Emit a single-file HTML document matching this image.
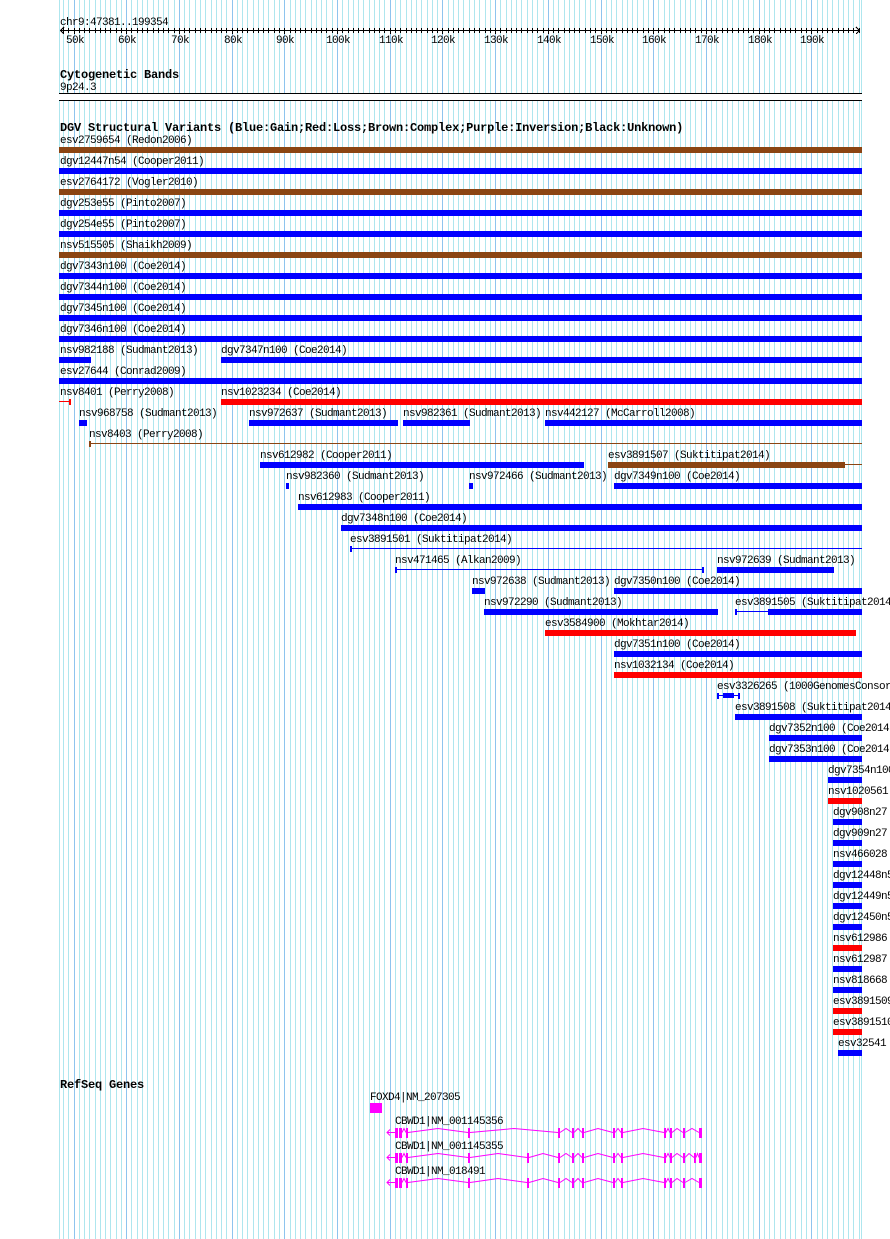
<!DOCTYPE html>
<html><head><meta charset="utf-8"><style>
html,body{margin:0;padding:0;background:#fff;}
svg{display:block;}
text{font-family:"Liberation Mono",monospace;font-size:11px;letter-spacing:-0.6px;fill:#000;}
text.b{font-weight:bold;font-size:12px;letter-spacing:-0.2px;}
</style></head><body>
<svg xmlns="http://www.w3.org/2000/svg" width="890" height="1239" viewBox="0 0 890 1239" shape-rendering="crispEdges">
<rect width="890" height="1239" fill="#fff"/>
<!-- minor grid -->
<path fill="none" stroke="#aee6ee" stroke-width="1" d="M59.5 0v1239M63.5 0v1239M68.5 0v1239M79.5 0v1239M84.5 0v1239M89.5 0v1239M95.5 0v1239M100.5 0v1239M105.5 0v1239M110.5 0v1239M116.5 0v1239M121.5 0v1239M131.5 0v1239M137.5 0v1239M142.5 0v1239M147.5 0v1239M153.5 0v1239M158.5 0v1239M163.5 0v1239M168.5 0v1239M174.5 0v1239M184.5 0v1239M189.5 0v1239M195.5 0v1239M200.5 0v1239M205.5 0v1239M211.5 0v1239M216.5 0v1239M221.5 0v1239M226.5 0v1239M237.5 0v1239M242.5 0v1239M247.5 0v1239M253.5 0v1239M258.5 0v1239M263.5 0v1239M268.5 0v1239M274.5 0v1239M279.5 0v1239M290.5 0v1239M295.5 0v1239M300.5 0v1239M305.5 0v1239M311.5 0v1239M316.5 0v1239M321.5 0v1239M326.5 0v1239M332.5 0v1239M342.5 0v1239M348.5 0v1239M353.5 0v1239M358.5 0v1239M363.5 0v1239M369.5 0v1239M374.5 0v1239M379.5 0v1239M384.5 0v1239M395.5 0v1239M400.5 0v1239M406.5 0v1239M411.5 0v1239M416.5 0v1239M421.5 0v1239M427.5 0v1239M432.5 0v1239M437.5 0v1239M448.5 0v1239M453.5 0v1239M458.5 0v1239M463.5 0v1239M469.5 0v1239M474.5 0v1239M479.5 0v1239M485.5 0v1239M490.5 0v1239M500.5 0v1239M506.5 0v1239M511.5 0v1239M516.5 0v1239M521.5 0v1239M527.5 0v1239M532.5 0v1239M537.5 0v1239M543.5 0v1239M553.5 0v1239M558.5 0v1239M564.5 0v1239M569.5 0v1239M574.5 0v1239M579.5 0v1239M585.5 0v1239M590.5 0v1239M595.5 0v1239M606.5 0v1239M611.5 0v1239M616.5 0v1239M622.5 0v1239M627.5 0v1239M632.5 0v1239M637.5 0v1239M643.5 0v1239M648.5 0v1239M658.5 0v1239M664.5 0v1239M669.5 0v1239M674.5 0v1239M680.5 0v1239M685.5 0v1239M690.5 0v1239M695.5 0v1239M701.5 0v1239M711.5 0v1239M716.5 0v1239M722.5 0v1239M727.5 0v1239M732.5 0v1239M738.5 0v1239M743.5 0v1239M748.5 0v1239M753.5 0v1239M764.5 0v1239M769.5 0v1239M774.5 0v1239M780.5 0v1239M785.5 0v1239M790.5 0v1239M795.5 0v1239M801.5 0v1239M806.5 0v1239M817.5 0v1239M822.5 0v1239M827.5 0v1239M832.5 0v1239M838.5 0v1239M843.5 0v1239M848.5 0v1239M853.5 0v1239M859.5 0v1239M861.5 0v1239"/>
<!-- major grid -->
<path fill="none" stroke="#8ec4ee" stroke-width="1" d="M74.5 0v1239M126.5 0v1239M179.5 0v1239M232.5 0v1239M284.5 0v1239M337.5 0v1239M390.5 0v1239M442.5 0v1239M495.5 0v1239M548.5 0v1239M601.5 0v1239M653.5 0v1239M706.5 0v1239M759.5 0v1239M811.5 0v1239"/>

<!-- ruler -->
<text x="60" y="25">chr9:47381..199354</text>
<rect x="60" y="30" width="800" height="1" fill="#000"/>
<polyline points="64,27 60.5,30.5 64,34" fill="none" stroke="#000" stroke-width="1"/>
<polyline points="856,27 859.5,30.5 856,34" fill="none" stroke="#000" stroke-width="1"/>
<path fill="none" stroke="#000" stroke-width="1" d="M63.5 28v5M68.5 28v5M74.5 28v6M79.5 28v5M84.5 28v5M89.5 28v5M95.5 28v5M100.5 28v5M105.5 28v5M110.5 28v5M116.5 28v5M121.5 28v5M126.5 28v6M131.5 28v5M137.5 28v5M142.5 28v5M147.5 28v5M153.5 28v5M158.5 28v5M163.5 28v5M168.5 28v5M174.5 28v5M179.5 28v6M184.5 28v5M189.5 28v5M195.5 28v5M200.5 28v5M205.5 28v5M211.5 28v5M216.5 28v5M221.5 28v5M226.5 28v5M232.5 28v6M237.5 28v5M242.5 28v5M247.5 28v5M253.5 28v5M258.5 28v5M263.5 28v5M268.5 28v5M274.5 28v5M279.5 28v5M284.5 28v6M290.5 28v5M295.5 28v5M300.5 28v5M305.5 28v5M311.5 28v5M316.5 28v5M321.5 28v5M326.5 28v5M332.5 28v5M337.5 28v6M342.5 28v5M348.5 28v5M353.5 28v5M358.5 28v5M363.5 28v5M369.5 28v5M374.5 28v5M379.5 28v5M384.5 28v5M390.5 28v6M395.5 28v5M400.5 28v5M406.5 28v5M411.5 28v5M416.5 28v5M421.5 28v5M427.5 28v5M432.5 28v5M437.5 28v5M442.5 28v6M448.5 28v5M453.5 28v5M458.5 28v5M463.5 28v5M469.5 28v5M474.5 28v5M479.5 28v5M485.5 28v5M490.5 28v5M495.5 28v6M500.5 28v5M506.5 28v5M511.5 28v5M516.5 28v5M521.5 28v5M527.5 28v5M532.5 28v5M537.5 28v5M543.5 28v5M548.5 28v6M553.5 28v5M558.5 28v5M564.5 28v5M569.5 28v5M574.5 28v5M579.5 28v5M585.5 28v5M590.5 28v5M595.5 28v5M601.5 28v6M606.5 28v5M611.5 28v5M616.5 28v5M622.5 28v5M627.5 28v5M632.5 28v5M637.5 28v5M643.5 28v5M648.5 28v5M653.5 28v6M658.5 28v5M664.5 28v5M669.5 28v5M674.5 28v5M680.5 28v5M685.5 28v5M690.5 28v5M695.5 28v5M701.5 28v5M706.5 28v6M711.5 28v5M716.5 28v5M722.5 28v5M727.5 28v5M732.5 28v5M738.5 28v5M743.5 28v5M748.5 28v5M753.5 28v5M759.5 28v6M764.5 28v5M769.5 28v5M774.5 28v5M780.5 28v5M785.5 28v5M790.5 28v5M795.5 28v5M801.5 28v5M806.5 28v5M811.5 28v6M817.5 28v5M822.5 28v5M827.5 28v5M832.5 28v5M838.5 28v5M843.5 28v5M848.5 28v5M853.5 28v5M859.5 28v5"/>
<g text-anchor="middle">
<text x="75" y="43">50k</text>
<text x="127" y="43">60k</text>
<text x="180" y="43">70k</text>
<text x="233" y="43">80k</text>
<text x="285" y="43">90k</text>
<text x="338" y="43">100k</text>
<text x="391" y="43">110k</text>
<text x="443" y="43">120k</text>
<text x="496" y="43">130k</text>
<text x="549" y="43">140k</text>
<text x="602" y="43">150k</text>
<text x="654" y="43">160k</text>
<text x="707" y="43">170k</text>
<text x="760" y="43">180k</text>
<text x="812" y="43">190k</text>
</g>

<!-- cytogenetic bands -->
<text class="b" x="60" y="78">Cytogenetic Bands</text>
<text x="60" y="90">9p24.3</text>
<rect x="59" y="93" width="803" height="8" fill="#fff"/>
<rect x="59" y="93" width="803" height="1" fill="#000"/>
<rect x="59" y="100" width="803" height="1" fill="#000"/>

<!-- DGV -->
<text class="b" x="60" y="131">DGV Structural Variants (Blue:Gain;Red:Loss;Brown:Complex;Purple:Inversion;Black:Unknown)</text>

<g>
<text x="60" y="143">esv2759654 (Redon2006)</text>
<rect x="59" y="147" width="803" height="6" fill="#8b4513"/>
<text x="60" y="164">dgv12447n54 (Cooper2011)</text>
<rect x="59" y="168" width="803" height="6" fill="#0000ff"/>
<text x="60" y="185">esv2764172 (Vogler2010)</text>
<rect x="59" y="189" width="803" height="6" fill="#8b4513"/>
<text x="60" y="206">dgv253e55 (Pinto2007)</text>
<rect x="59" y="210" width="803" height="6" fill="#0000ff"/>
<text x="60" y="227">dgv254e55 (Pinto2007)</text>
<rect x="59" y="231" width="803" height="6" fill="#0000ff"/>
<text x="60" y="248">nsv515505 (Shaikh2009)</text>
<rect x="59" y="252" width="803" height="6" fill="#8b4513"/>
<text x="60" y="269">dgv7343n100 (Coe2014)</text>
<rect x="59" y="273" width="803" height="6" fill="#0000ff"/>
<text x="60" y="290">dgv7344n100 (Coe2014)</text>
<rect x="59" y="294" width="803" height="6" fill="#0000ff"/>
<text x="60" y="311">dgv7345n100 (Coe2014)</text>
<rect x="59" y="315" width="803" height="6" fill="#0000ff"/>
<text x="60" y="332">dgv7346n100 (Coe2014)</text>
<rect x="59" y="336" width="803" height="6" fill="#0000ff"/>

<text x="60" y="353">nsv982188 (Sudmant2013)</text>
<rect x="59" y="357" width="32" height="6" fill="#0000ff"/>
<text x="221" y="353">dgv7347n100 (Coe2014)</text>
<rect x="221" y="357" width="641" height="6" fill="#0000ff"/>

<text x="60" y="374">esv27644 (Conrad2009)</text>
<rect x="59" y="378" width="803" height="6" fill="#0000ff"/>

<text x="60" y="395">nsv8401 (Perry2008)</text>
<rect x="59" y="401" width="11" height="1" fill="#ff0000"/>
<rect x="69" y="399" width="2" height="6" fill="#ff0000"/>
<text x="221" y="395">nsv1023234 (Coe2014)</text>
<rect x="221" y="399" width="641" height="6" fill="#ff0000"/>

<text x="79" y="416">nsv968758 (Sudmant2013)</text>
<rect x="79" y="420" width="8" height="6" fill="#0000ff"/>
<text x="249" y="416">nsv972637 (Sudmant2013)</text>
<rect x="249" y="420" width="149" height="6" fill="#0000ff"/>
<text x="403" y="416">nsv982361 (Sudmant2013)</text>
<rect x="403" y="420" width="67" height="6" fill="#0000ff"/>
<text x="545" y="416">nsv442127 (McCarroll2008)</text>
<rect x="545" y="420" width="317" height="6" fill="#0000ff"/>

<text x="89" y="437">nsv8403 (Perry2008)</text>
<rect x="89" y="443" width="773" height="1" fill="#8b4513"/>
<rect x="89" y="441" width="2" height="6" fill="#8b4513"/>

<text x="260" y="458">nsv612982 (Cooper2011)</text>
<rect x="260" y="462" width="324" height="6" fill="#0000ff"/>
<text x="608" y="458">esv3891507 (Suktitipat2014)</text>
<rect x="608" y="462" width="237" height="6" fill="#8b4513"/>
<rect x="845" y="464" width="17" height="1" fill="#8b4513"/>

<text x="286" y="479">nsv982360 (Sudmant2013)</text>
<rect x="286" y="483" width="3" height="6" fill="#0000ff"/>
<text x="469" y="479">nsv972466 (Sudmant2013)</text>
<rect x="469" y="483" width="4" height="6" fill="#0000ff"/>
<text x="614" y="479">dgv7349n100 (Coe2014)</text>
<rect x="614" y="483" width="248" height="6" fill="#0000ff"/>

<text x="298" y="500">nsv612983 (Cooper2011)</text>
<rect x="298" y="504" width="564" height="6" fill="#0000ff"/>

<text x="341" y="521">dgv7348n100 (Coe2014)</text>
<rect x="341" y="525" width="521" height="6" fill="#0000ff"/>

<text x="350" y="542">esv3891501 (Suktitipat2014)</text>
<rect x="350" y="548" width="512" height="1" fill="#0000ff"/>
<rect x="350" y="546" width="2" height="6" fill="#0000ff"/>

<text x="395" y="563">nsv471465 (Alkan2009)</text>
<rect x="395" y="569" width="309" height="1" fill="#0000ff"/>
<rect x="395" y="567" width="2" height="6" fill="#0000ff"/>
<rect x="702" y="567" width="2" height="6" fill="#0000ff"/>
<text x="717" y="563">nsv972639 (Sudmant2013)</text>
<rect x="717" y="567" width="117" height="6" fill="#0000ff"/>

<text x="472" y="584">nsv972638 (Sudmant2013)</text>
<rect x="472" y="588" width="13" height="6" fill="#0000ff"/>
<text x="614" y="584">dgv7350n100 (Coe2014)</text>
<rect x="614" y="588" width="248" height="6" fill="#0000ff"/>

<text x="484" y="605">nsv972290 (Sudmant2013)</text>
<rect x="484" y="609" width="234" height="6" fill="#0000ff"/>
<text x="735" y="605">esv3891505 (Suktitipat2014)</text>
<rect x="735" y="609" width="2" height="6" fill="#0000ff"/>
<rect x="735" y="611" width="33" height="1" fill="#0000ff"/>
<rect x="768" y="609" width="94" height="6" fill="#0000ff"/>

<text x="545" y="626">esv3584900 (Mokhtar2014)</text>
<rect x="545" y="630" width="311" height="6" fill="#ff0000"/>

<text x="614" y="647">dgv7351n100 (Coe2014)</text>
<rect x="614" y="651" width="248" height="6" fill="#0000ff"/>

<text x="614" y="668">nsv1032134 (Coe2014)</text>
<rect x="614" y="672" width="248" height="6" fill="#ff0000"/>

<text x="717" y="689">esv3326265 (1000GenomesConsortiumPilotProject)</text>
<rect x="717" y="695" width="23" height="1" fill="#0000ff"/>
<rect x="717" y="693" width="2" height="6" fill="#0000ff"/>
<rect x="738" y="693" width="2" height="6" fill="#0000ff"/>
<rect x="723" y="693" width="11" height="5" fill="#0000ff"/>

<text x="735" y="710">esv3891508 (Suktitipat2014)</text>
<rect x="735" y="714" width="127" height="6" fill="#0000ff"/>

<text x="769" y="731">dgv7352n100 (Coe2014)</text>
<rect x="769" y="735" width="93" height="6" fill="#0000ff"/>
<text x="769" y="752">dgv7353n100 (Coe2014)</text>
<rect x="769" y="756" width="93" height="6" fill="#0000ff"/>
<text x="828" y="773">dgv7354n100 (Coe2014)</text>
<rect x="828" y="777" width="34" height="6" fill="#0000ff"/>
<text x="828" y="794">nsv1020561 (Coe2014)</text>
<rect x="828" y="798" width="34" height="6" fill="#ff0000"/>
<text x="833" y="815">dgv908n27 (Park2010)</text>
<rect x="833" y="819" width="29" height="6" fill="#0000ff"/>
<text x="833" y="836">dgv909n27 (Park2010)</text>
<rect x="833" y="840" width="29" height="6" fill="#0000ff"/>
<text x="833" y="857">nsv466028 (Itsara2009)</text>
<rect x="833" y="861" width="29" height="6" fill="#0000ff"/>
<text x="833" y="878">dgv12448n54 (Cooper2011)</text>
<rect x="833" y="882" width="29" height="6" fill="#0000ff"/>
<text x="833" y="899">dgv12449n54 (Cooper2011)</text>
<rect x="833" y="903" width="29" height="6" fill="#0000ff"/>
<text x="833" y="920">dgv12450n54 (Cooper2011)</text>
<rect x="833" y="924" width="29" height="6" fill="#0000ff"/>
<text x="833" y="941">nsv612986 (Cooper2011)</text>
<rect x="833" y="945" width="29" height="6" fill="#ff0000"/>
<text x="833" y="962">nsv612987 (Cooper2011)</text>
<rect x="833" y="966" width="29" height="6" fill="#0000ff"/>
<text x="833" y="983">nsv818668 (Campbell2011)</text>
<rect x="833" y="987" width="29" height="6" fill="#0000ff"/>
<text x="833" y="1004">esv3891509 (Suktitipat2014)</text>
<rect x="833" y="1008" width="29" height="6" fill="#ff0000"/>
<text x="833" y="1025">esv3891510 (Suktitipat2014)</text>
<rect x="833" y="1029" width="29" height="6" fill="#ff0000"/>
<text x="838" y="1046">esv32541 (Conrad2009)</text>
<rect x="838" y="1050" width="24" height="6" fill="#0000ff"/>
</g>

<!-- RefSeq Genes -->
<text class="b" x="60" y="1088">RefSeq Genes</text>
<text x="370" y="1100">FOXD4|NM_207305</text>
<rect x="370" y="1103" width="12" height="10" fill="#ff00ff"/>

<!-- gene 1 -->
<text x="395" y="1124">CBWD1|NM_001145356</text>
<g fill="#ff00ff">
<rect x="395" y="1128" width="3" height="10"/><rect x="399" y="1128" width="3" height="10"/><rect x="406" y="1128" width="2" height="10"/><rect x="468" y="1128" width="2" height="10"/><rect x="558" y="1128" width="2" height="10"/><rect x="572" y="1128" width="2" height="10"/><rect x="582" y="1128" width="2" height="10"/><rect x="613" y="1128" width="2" height="10"/><rect x="621" y="1128" width="2" height="10"/><rect x="664" y="1128" width="2" height="10"/><rect x="670" y="1128" width="2" height="10"/><rect x="683" y="1128" width="2" height="10"/><rect x="699" y="1128" width="3" height="10"/>
</g>
<g fill="none" stroke="#ff00ff" stroke-width="1" shape-rendering="auto">
<polyline points="390,1129.5 387,1132.5 390,1135.5"/><line x1="387" y1="1132.5" x2="395" y2="1132.5"/>
<polyline points="402,1132.5 404,1128.5 406,1132.5"/>
<polyline points="408,1132.5 438,1128.5 468,1132.5"/>
<polyline points="470,1132.5 514,1128.5 558,1132.5"/>
<polyline points="560,1132.5 566,1128.5 572,1132.5"/>
<polyline points="574,1132.5 578,1128.5 582,1132.5"/>
<polyline points="584,1132.5 598,1128.5 613,1132.5"/>
<polyline points="615,1132.5 618,1128.5 621,1132.5"/>
<polyline points="623,1132.5 643,1128.5 664,1132.5"/>
<polyline points="666,1132.5 668,1128.5 670,1132.5"/>
<polyline points="672,1132.5 677,1128.5 683,1132.5"/>
<polyline points="685,1132.5 692,1128.5 699,1132.5"/>
</g>

<!-- gene 2 -->
<text x="395" y="1149">CBWD1|NM_001145355</text>
<g fill="#ff00ff">
<rect x="395" y="1153" width="3" height="10"/><rect x="399" y="1153" width="3" height="10"/><rect x="406" y="1153" width="2" height="10"/><rect x="468" y="1153" width="2" height="10"/><rect x="527" y="1153" width="2" height="10"/><rect x="558" y="1153" width="2" height="10"/><rect x="572" y="1153" width="2" height="10"/><rect x="582" y="1153" width="2" height="10"/><rect x="613" y="1153" width="2" height="10"/><rect x="621" y="1153" width="2" height="10"/><rect x="664" y="1153" width="2" height="10"/><rect x="670" y="1153" width="2" height="10"/><rect x="683" y="1153" width="2" height="10"/><rect x="694" y="1153" width="2" height="10"/><rect x="699" y="1153" width="3" height="10"/>
</g>
<g fill="none" stroke="#ff00ff" stroke-width="1" shape-rendering="auto">
<polyline points="390,1154.5 387,1157.5 390,1160.5"/><line x1="387" y1="1157.5" x2="395" y2="1157.5"/>
<polyline points="402,1157.5 404,1153.5 406,1157.5"/>
<polyline points="408,1157.5 438,1153.5 468,1157.5"/>
<polyline points="470,1157.5 498,1153.5 527,1157.5"/>
<polyline points="529,1157.5 543,1153.5 558,1157.5"/>
<polyline points="560,1157.5 566,1153.5 572,1157.5"/>
<polyline points="574,1157.5 578,1153.5 582,1157.5"/>
<polyline points="584,1157.5 598,1153.5 613,1157.5"/>
<polyline points="615,1157.5 618,1153.5 621,1157.5"/>
<polyline points="623,1157.5 643,1153.5 664,1157.5"/>
<polyline points="666,1157.5 668,1153.5 670,1157.5"/>
<polyline points="672,1157.5 677,1153.5 683,1157.5"/>
<polyline points="685,1157.5 689,1153.5 694,1157.5"/>
<polyline points="696,1157.5 697.5,1153.5 699,1157.5"/>
</g>

<!-- gene 3 -->
<text x="395" y="1174">CBWD1|NM_018491</text>
<g fill="#ff00ff">
<rect x="395" y="1178" width="3" height="10"/><rect x="399" y="1178" width="3" height="10"/><rect x="406" y="1178" width="2" height="10"/><rect x="468" y="1178" width="2" height="10"/><rect x="527" y="1178" width="2" height="10"/><rect x="558" y="1178" width="2" height="10"/><rect x="572" y="1178" width="2" height="10"/><rect x="582" y="1178" width="2" height="10"/><rect x="613" y="1178" width="2" height="10"/><rect x="621" y="1178" width="2" height="10"/><rect x="664" y="1178" width="2" height="10"/><rect x="670" y="1178" width="2" height="10"/><rect x="683" y="1178" width="2" height="10"/><rect x="699" y="1178" width="3" height="10"/>
</g>
<g fill="none" stroke="#ff00ff" stroke-width="1" shape-rendering="auto">
<polyline points="390,1179.5 387,1182.5 390,1185.5"/><line x1="387" y1="1182.5" x2="395" y2="1182.5"/>
<polyline points="402,1182.5 404,1178.5 406,1182.5"/>
<polyline points="408,1182.5 438,1178.5 468,1182.5"/>
<polyline points="470,1182.5 498,1178.5 527,1182.5"/>
<polyline points="529,1182.5 543,1178.5 558,1182.5"/>
<polyline points="560,1182.5 566,1178.5 572,1182.5"/>
<polyline points="574,1182.5 578,1178.5 582,1182.5"/>
<polyline points="584,1182.5 598,1178.5 613,1182.5"/>
<polyline points="615,1182.5 618,1178.5 621,1182.5"/>
<polyline points="623,1182.5 643,1178.5 664,1182.5"/>
<polyline points="666,1182.5 668,1178.5 670,1182.5"/>
<polyline points="672,1182.5 677,1178.5 683,1182.5"/>
<polyline points="685,1182.5 692,1178.5 699,1182.5"/>
</g>
</svg>
</body></html>
